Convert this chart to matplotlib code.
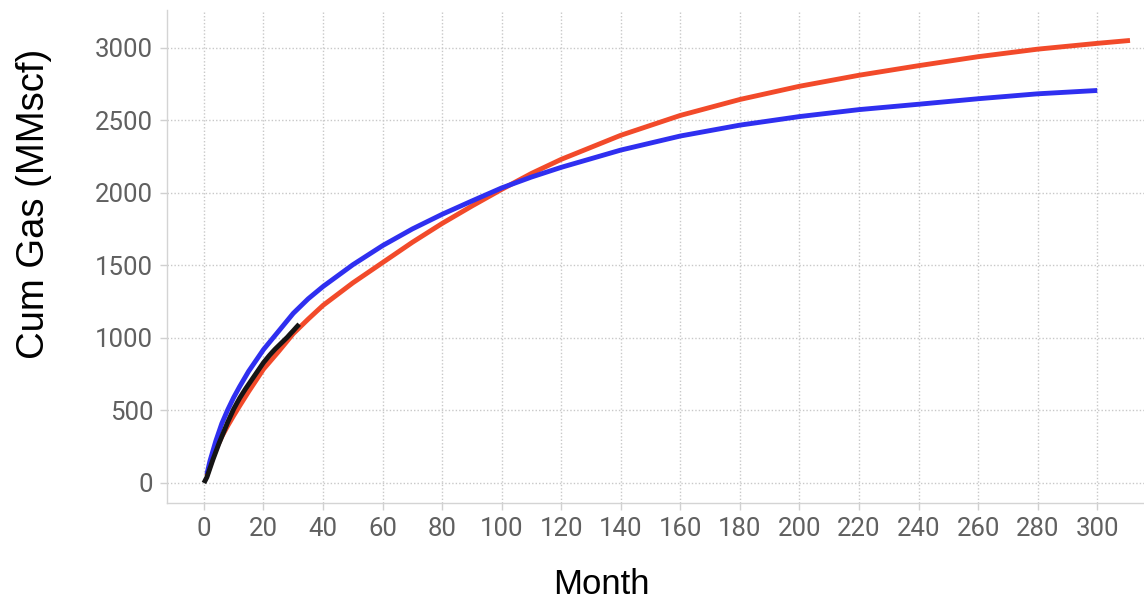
import matplotlib
matplotlib.use("Agg")
import matplotlib.pyplot as plt

# ---- data ----
blue_month = [1, 2, 4, 6, 8, 10, 12, 15, 20, 25, 30, 35, 40, 50, 60, 70, 80, 90, 100,
              110, 120, 140, 160, 180, 200, 220, 240, 260, 280, 300]
blue_cum = [60, 150, 290, 410, 505, 590, 665, 770, 920, 1045, 1170, 1270, 1355, 1505, 1637,
            1752, 1853, 1945, 2035, 2110, 2177, 2296, 2393, 2468, 2527, 2575, 2612, 2650, 2684, 2707]

red_month = [1, 2, 4, 6, 8, 10, 12, 15, 20, 25, 30, 35, 40, 50, 60, 70, 80, 90, 100,
             110, 120, 140, 160, 180, 200, 220, 240, 260, 280, 300, 311]
red_cum = [50, 115, 230, 320, 395, 465, 532, 630, 785, 905, 1030, 1130, 1225, 1380, 1520,
           1660, 1790, 1910, 2025, 2135, 2232, 2398, 2535, 2645, 2736, 2812, 2878, 2940,
           2992, 3032, 3052]

black_month = list(range(0, 33))
black_cum = [0, 40, 100, 160, 215, 270, 320, 370, 420, 465, 510, 548, 585, 618, 650, 680,
             710, 740, 770, 800, 830, 855, 880, 903, 925, 945, 965, 985, 1005, 1028, 1050,
             1073, 1095]

x_ticks = list(range(0, 301, 20))
y_ticks = list(range(0, 3001, 500))

# ---- figure ----
fig = plt.figure(figsize=(11.44, 6.0), dpi=100)
ax = fig.add_axes([167 / 1144, 1 - 503 / 600, 1 - 167 / 1144, (503 - 10) / 600])

ax.plot(red_month, red_cum, color="#f24a2a", lw=3.5, solid_capstyle="butt", zorder=3)
ax.plot(blue_month, blue_cum, color="#2f2ff0", lw=3.5, solid_capstyle="butt", zorder=4)
ax.plot(black_month, black_cum, color="#151515", lw=3.5, solid_capstyle="butt", zorder=5)

ax.set_xlim(-12.4, 315.7)
ax.set_ylim(-138, 3262)
ax.set_xticks(x_ticks)
ax.set_yticks(y_ticks)

ax.grid(True, color="#c8c8c8", linestyle=(0, (1, 1.5)), linewidth=1.0)
ax.set_axisbelow(True)

for s in ["top", "right"]:
    ax.spines[s].set_visible(False)
for s in ["left", "bottom"]:
    ax.spines[s].set_color("#d4d4d4")
    ax.spines[s].set_linewidth(1.0)

ax.tick_params(axis="both", colors="#d0d0d0", length=5, width=1,
               labelcolor="#606060", labelsize=18.5, pad=5)
for lbl in ax.get_xticklabels() + ax.get_yticklabels():
    lbl.set_family(["Roboto", "DejaVu Sans"])

fig.text(601 / 1144, 1 - 584 / 600, "Month", ha="center", va="center",
         fontsize=25, color="black", family=["Liberation Sans", "DejaVu Sans"])
fig.text(34 / 1144, 1 - 204 / 600, "Cum Gas (MMscf)", ha="center", va="center",
         rotation=90, fontsize=27.5, color="black", family=["Liberation Sans", "DejaVu Sans"])

fig.savefig("out.png", dpi=100)
